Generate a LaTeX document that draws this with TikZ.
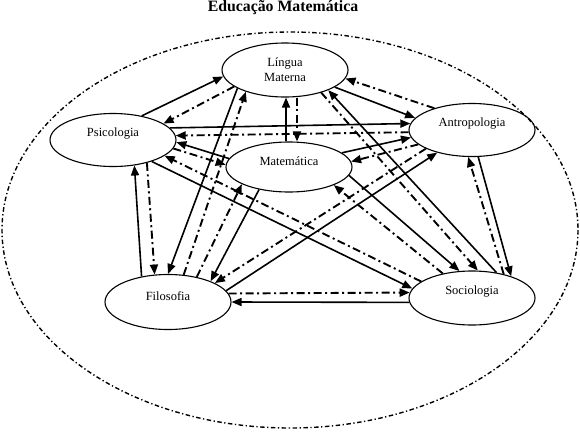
\documentclass[tikz,border=0pt]{standalone}
\usepackage{fontspec}
\setmainfont{Liberation Serif}
\usetikzlibrary{shapes.geometric,arrows.meta}
\newcommand\uptxt[1]{\raisebox{6pt}[\height][\depth]{#1}}
\begin{document}
\begin{tikzpicture}[x=1pt,y=-1pt,
  area/.style={ellipse,draw,line width=1.1pt,minimum width=126pt,minimum height=53pt,
    inner sep=0pt,font=\fontsize{12.5}{15}\selectfont,align=center},
  sol/.style={line width=1.6pt,-{Triangle[length=10pt,width=8pt]}},
  dd/.style={line width=1.9pt,dash pattern=on 8pt off 3.5pt on 2pt off 3.5pt,
    -{Triangle[length=10pt,width=8pt]}},
  frame/.style={line width=1.4pt,dash pattern=on 4.5pt off 2.5pt on 1.3pt off 2.5pt}]
\useasboundingbox (0,0) rectangle (580,431);
\node[font=\fontsize{15.8}{18}\selectfont\bfseries] (title) at (283,8) {Educação Matemática};
\draw[frame] (290,230) ellipse [x radius=288, y radius=198];

\node[area,minimum height=54pt] (L) at (285,70) {Língua\\Materna};
\node[area] (P) at (113,140) {\uptxt{Psicologia}};
\node[area] (A) at (472,130) {\uptxt{Antropologia}};
\node[area,minimum height=50pt] (M) at (289,167) {\uptxt{Matemática}};
\node[area,minimum height=55pt] (F) at (168,302) {\uptxt{Filosofia}};
\node[area,minimum height=54pt] (S) at (472,298) {\uptxt{Sociologia}};

% solid connectors
\draw[sol] (P.40) -- (L.186);
\draw[sol] (L.-19) -- (A.168);
\draw[sol] (P.12) -- (A.174);
\draw[sol] ([xshift=-3pt]M.north) -- ([xshift=1pt]L.south);
\draw[sol] (M.172) -- (P.-2);
\draw[sol] (P.-29) -- (S.171);
\draw[sol] (F.136) -- (P.-50);
\draw[sol] (L.201) -- (F.90);
\draw[sol] (M.217) -- (F.26);
\draw[sol] (F.11) -- (A.213);
\draw[sol] (S.184) -- (F.0);
\draw[sol] (M.15) -- (A.187);
\draw[sol] (M.-8) -- (S.115);
\draw[sol] (S.46) -- (L.-25);
\draw[sol] (A.-77) -- (S.29);

% dash-dot connectors
\draw[dd] (L.198) -- (P.18);
\draw[dd] (A.150) -- (L.-8);
\draw[dd] (A.182) -- (P.4);
\draw[dd] ([xshift=12pt]L.south) -- ([xshift=8pt]M.north);
\draw[dd] (P.-8) -- (M.178);
\draw[dd] (S.162) -- (P.-17);
\draw[dd] (P.-34) -- (F.116);
\draw[dd] (F.60) -- (L.209);
\draw[dd] (F.41) -- (M.200);
\draw[dd] (A.202) -- (F.22);
\draw[dd] (F.8) -- (S.175);
\draw[dd] (A.195) -- (M.5);
\draw[dd] (S.140) -- (M.-22);
\draw[dd] (L.-32) -- (S.78);
\draw[dd] (S.37) -- (A.262);
\end{tikzpicture}
\end{document}
